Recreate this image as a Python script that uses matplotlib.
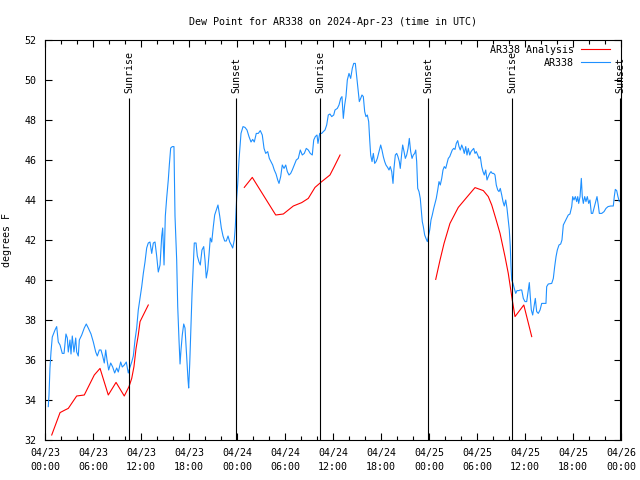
import matplotlib
matplotlib.use('Agg')
import matplotlib.pyplot as plt
import matplotlib.dates as mdates
import matplotlib.lines as mlines
import pandas as pd

start = pd.Timestamp('2024-04-23 00:00')

# sunrise / sunset, hours after 04/23 00:00 UTC
sun_hours = [10.5, 23.875, 34.375, 47.875, 58.375, 71.875]
sun_labels = ['Sunrise', 'Sunset', 'Sunrise', 'Sunset', 'Sunrise', 'Sunset']

# AR338 observed dew point (hours after start, deg F)
obs_hours = [0.41, 0.5, 0.62, 0.75, 0.91, 1.25, 1.46, 1.66, 1.88, 2.16, 2.38, 2.62, 2.79, 2.91,
             3.12, 3.25, 3.41, 3.62, 3.84, 3.96, 4.16, 4.29, 4.59, 4.91, 5.16, 5.41, 5.75, 6.04,
             6.34, 6.54, 6.79, 7.0, 7.21, 7.41, 7.59, 7.75, 7.96, 8.21, 8.46, 8.71, 8.96, 9.16,
             9.46, 9.66, 9.91, 10.16, 10.41, 10.59, 10.84, 11.04, 11.25, 11.46, 11.66,
             12.09, 12.29, 12.5, 12.71, 12.91, 13.12, 13.34, 13.54, 13.75, 13.96, 14.16, 14.38,
             14.59, 14.71, 14.88, 15.04, 15.21, 15.41, 15.54, 15.71, 15.91, 16.12, 16.25, 16.46,
             16.59, 16.75, 16.88, 17.0, 17.16, 17.34, 17.5, 17.66, 17.88, 17.96, 18.09, 18.21,
             18.38, 18.54, 18.66, 18.88, 19.04, 19.25, 19.41, 19.62, 19.84, 20.0, 20.16, 20.34,
             20.5, 20.66, 20.84, 21.04, 21.21, 21.41, 21.62, 21.84, 22.04, 22.25, 22.46, 22.66,
             22.88, 23.09, 23.29, 23.46, 23.66, 23.79, 23.96, 24.09, 24.25,
             24.5, 24.75, 25.0, 25.25, 25.5, 25.75, 25.96, 26.16, 26.41, 26.66, 26.91, 27.16,
             27.38, 27.59, 27.84, 28.04, 28.25, 28.46, 28.66, 28.88, 29.09, 29.25, 29.46, 29.66,
             29.88, 30.09, 30.29, 30.5, 30.71, 30.91, 31.16, 31.41, 31.66, 31.91, 32.16, 32.41,
             32.66, 32.91, 33.16, 33.41, 33.59, 33.79, 34.0, 34.12, 34.34, 34.59, 34.79, 35.0,
             35.21, 35.41, 35.62, 35.84, 36.09,
             36.25, 36.54, 36.75, 36.96, 37.12, 37.29, 37.46, 37.62, 37.79, 38.0, 38.21, 38.41,
             38.59, 38.79, 38.96, 39.12, 39.29, 39.46, 39.62, 39.79, 39.96, 40.12, 40.29, 40.46,
             40.59, 40.71, 40.88, 41.04, 41.21, 41.38, 41.54, 41.75, 41.96, 42.12, 42.29, 42.46,
             42.62, 42.84, 43.0, 43.16, 43.34, 43.5, 43.62, 43.79, 43.96, 44.12, 44.29, 44.41,
             44.59, 44.71, 44.88, 45.04, 45.21, 45.38, 45.54, 45.71, 45.88, 46.04, 46.21, 46.34,
             46.46, 46.59, 46.75, 46.91, 47.04, 47.16, 47.29, 47.46, 47.62, 47.79,
             48.09, 48.25, 48.41, 48.59, 48.75, 48.91, 49.09, 49.25, 49.41, 49.59, 49.75, 49.91,
             50.09, 50.25, 50.41, 50.59, 50.75, 50.91, 51.09, 51.25, 51.41, 51.59, 51.75, 51.91,
             52.09, 52.25, 52.41, 52.59, 52.75, 52.91, 53.09, 53.25, 53.41, 53.59, 53.75, 53.91,
             54.09, 54.25, 54.41, 54.59, 54.75, 54.91, 55.09, 55.25, 55.41, 55.59, 55.75, 55.91,
             56.09, 56.25, 56.41, 56.59, 56.75, 56.91, 57.09, 57.25, 57.41, 57.59, 57.75, 57.91,
             58.04, 58.16, 58.25, 58.34, 58.5, 58.66, 58.84, 59.0, 59.25,
             59.38, 59.59, 59.79, 60.0, 60.21, 60.41, 60.54, 60.66, 60.79, 60.96, 61.12, 61.29,
             61.46, 61.66, 61.88, 62.09, 62.38, 62.62, 62.71, 62.91, 63.34, 63.54, 63.71, 63.88,
             64.04, 64.25, 64.46, 64.62, 64.79, 65.0, 65.21, 65.41, 65.62, 65.84, 65.96, 66.12,
             66.29, 66.46, 66.59, 66.71, 66.88, 67.04, 67.16, 67.29, 67.46, 67.62, 67.79, 67.96,
             68.12, 68.29, 68.46, 68.62, 68.84, 69.0, 69.16, 69.29, 69.59, 69.88, 70.12, 70.38,
             70.71, 71.04, 71.16, 71.29, 71.46, 71.62, 71.79]
obs_dewpt = [33.67, 34.25, 35.6, 36.4, 37.15, 37.5, 37.67, 36.9, 36.75, 36.33, 36.33, 37.3, 37.1, 36.4,
             37.0, 36.3, 37.2, 36.4, 37.1, 36.4, 36.2, 37.0, 37.25, 37.6, 37.8, 37.6, 37.3, 36.9,
             36.4, 36.2, 36.5, 36.5, 36.2, 35.85, 36.5, 36.0, 35.5, 35.85, 35.65, 35.35, 35.6, 35.4,
             35.9, 35.65, 35.75, 35.9, 35.35, 35.6, 35.9, 36.2, 37.0, 37.6, 38.5,
             39.67, 40.33, 40.9, 41.6, 41.85, 41.9, 41.33, 41.85, 41.9, 41.2, 40.4, 40.75,
             42.2, 42.6, 40.75, 43.2, 44.1, 45.0, 45.75, 46.6, 46.67, 46.67, 43.2, 41.0,
             38.67, 37.0, 35.8, 36.5, 37.25, 37.8, 37.6, 36.5, 35.0, 34.6, 35.8, 37.3,
             39.33, 40.8, 41.85, 41.85, 41.2, 40.9, 40.75, 41.5, 41.67, 41.0, 40.1, 40.5,
             41.25, 42.1, 41.9, 42.67, 43.25, 43.5, 43.75, 43.2, 42.6, 42.2, 41.95, 41.95,
             42.2, 41.9, 41.75, 41.6, 42.0, 42.67, 44.1, 44.8, 46.0,
             47.33, 47.67, 47.63, 47.5, 47.17, 46.9, 47.03, 46.9, 47.33, 47.33, 47.47, 47.25,
             46.58, 46.33, 46.42, 46.08, 45.92, 45.75, 45.5, 45.3, 45.0, 44.83, 45.17, 45.75,
             45.58, 45.75, 45.42, 45.25, 45.33, 45.5, 45.75, 46.0, 46.08, 46.5, 46.25, 46.33,
             46.58, 46.5, 46.33, 46.25, 47.0, 47.17, 47.25, 46.83, 47.33, 47.33, 47.42, 47.5,
             47.75, 48.25, 48.3, 48.17, 48.25,
             48.5, 48.58, 48.75, 49.08, 49.17, 48.08, 48.75, 49.17, 50.0, 50.33, 50.08, 50.58,
             50.83, 50.83, 50.17, 49.5, 48.92, 49.08, 49.25, 49.17, 48.42, 48.17, 48.25, 47.92,
             47.0, 46.25, 45.92, 46.33, 45.83, 45.92, 46.08, 46.42, 46.75, 46.5, 46.17, 45.92,
             45.75, 45.62, 45.5, 45.67, 45.42, 44.83, 45.58, 46.25, 46.33, 46.17, 45.92, 45.58,
             46.33, 46.75, 46.42, 46.08, 46.25, 46.58, 47.08, 46.42, 46.08, 46.25, 46.33, 46.5,
             45.92, 44.58, 44.42, 44.08, 43.5, 42.92, 42.67, 42.25, 42.08, 41.92,
             42.5, 43.0, 43.25, 43.58, 43.83, 44.08, 44.5, 44.92, 44.75, 45.08, 45.5, 45.67,
             45.58, 45.83, 46.08, 46.17, 46.33, 46.5, 46.58, 46.53, 46.83, 46.97, 46.67, 46.5,
             46.75, 46.58, 46.33, 46.67, 46.25, 46.58, 46.25, 46.42, 46.5, 46.58, 46.33, 46.42,
             46.25, 46.08, 46.17, 45.67, 45.42, 45.25, 45.5, 45.0, 45.17, 45.33, 45.42, 45.33,
             45.33, 45.25, 44.75, 44.5, 44.42, 44.58, 44.25, 43.92, 43.7, 44.0, 43.58, 43.0,
             42.5, 41.67, 40.67, 40.0, 39.83, 39.58, 39.33, 39.47, 39.47,
             39.5, 39.5, 39.08, 38.92, 38.92, 39.5, 39.87, 39.17, 38.5, 38.25, 38.67, 39.08,
             38.42, 38.33, 38.5, 38.83, 38.83, 38.83, 39.67, 39.8, 39.83, 40.08, 40.67, 41.17,
             41.5, 41.75, 41.8, 42.0, 42.75, 42.92, 43.08, 43.25, 43.3, 43.67, 44.17, 44.0,
             44.17, 43.92, 44.17, 43.83, 44.17, 45.08, 44.17, 43.83, 44.17, 43.92, 44.17, 43.83,
             44.0, 43.33, 43.33, 43.58, 43.92, 44.17, 43.75, 43.33, 43.33, 43.42, 43.58, 43.67,
             43.7, 43.7, 44.17, 44.53, 44.47, 44.17, 43.92]

# AR338 analysis, three runs
ana1_hours = [0.84, 1.88, 2.5, 2.91, 3.96, 4.91, 6.16, 6.88, 7.91, 8.88, 9.91, 10.5, 10.84,
              11.12, 11.38, 11.66, 11.88, 12.29, 12.91]
ana1_dewpt = [32.25, 33.37, 33.5, 33.58, 34.2, 34.25, 35.25, 35.58, 34.25, 34.88, 34.2, 34.67,
              35.08, 35.67, 36.58, 37.25, 37.92, 38.25, 38.75]
ana2_hours = [24.91, 25.91, 28.84, 29.79, 31.04, 32.09, 32.91, 33.75, 34.59, 35.62, 36.16, 36.88]
ana2_dewpt = [44.63, 45.13, 43.25, 43.3, 43.7, 43.87, 44.08, 44.63, 44.92, 45.25, 45.67, 46.25]
ana3_hours = [48.84, 49.38, 49.88, 50.62, 51.66, 52.71, 53.75, 54.79, 55.41, 55.84, 56.34,
              56.88, 57.5, 57.91, 58.41, 58.75, 59.85, 60.84]
ana3_dewpt = [40.03, 41.0, 41.83, 42.83, 43.63, 44.13, 44.62, 44.47, 44.17, 43.75, 43.08,
              42.33, 41.17, 40.33, 39.0, 38.17, 38.75, 37.17]


def to_time(hours):
    return start + pd.to_timedelta(hours, unit='h')


def main():
    plt.rcParams['font.family'] = ['DejaVu Sans Mono', 'DejaVu Sans']
    fs = 7.2
    lw = 0.8
    blue = '#1e90ff'
    red = '#ff0000'

    fig = plt.figure(figsize=(6.4, 4.8), dpi=100)
    ax = fig.add_axes([45 / 640, 40 / 480, 576 / 640, 400 / 480])

    ax.plot(to_time(obs_hours), obs_dewpt, color=blue, lw=lw)
    for h, v in [(ana1_hours, ana1_dewpt), (ana2_hours, ana2_dewpt), (ana3_hours, ana3_dewpt)]:
        ax.plot(to_time(h), v, color=red, lw=lw)

    # sunrise / sunset markers
    ax.vlines(to_time(sun_hours), 32, 49.1, color='black', lw=lw)
    for h, lab in zip(sun_hours, sun_labels):
        ax.text(to_time(h), 49.35, lab, rotation=90, ha='center', va='bottom',
                fontsize=fs, clip_on=False)

    ax.set_xlim(start, start + pd.Timedelta(hours=72))
    ax.set_ylim(32, 52)
    ax.set_yticks(range(32, 53, 2))
    ax.xaxis.set_major_locator(mdates.HourLocator(byhour=[0, 6, 12, 18]))
    ax.xaxis.set_minor_locator(mdates.HourLocator(interval=2))
    ax.xaxis.set_major_formatter(mdates.DateFormatter('%m/%d\n%H:%M'))

    ax.tick_params(which='major', direction='in', length=5, width=0.8, top=True, right=True,
                   labelsize=fs, pad=6)
    ax.tick_params(which='minor', direction='in', length=3, width=0.8, top=True)
    for sp in ax.spines.values():
        sp.set_linewidth(0.8)

    ax.set_title('Dew Point for AR338 on 2024-Apr-23 (time in UTC)', fontsize=fs, pad=11)
    ax.set_ylabel('degrees F', fontsize=fs)
    ax.yaxis.set_label_coords(-33 / 576, 0.5)

    h_ana = mlines.Line2D([], [], color=red, lw=lw)
    h_obs = mlines.Line2D([], [], color=blue, lw=lw)
    leg = ax.legend([h_ana, h_obs], ['AR338 Analysis', 'AR338'], loc='upper right',
                    bbox_to_anchor=(1 - 11 / 576, 1 - 5 / 400), frameon=False,
                    markerfirst=False, fontsize=fs, handlelength=2.9, handletextpad=0.7,
                    labelspacing=0.3, borderpad=0, borderaxespad=0)
    # right-align the entries (text flush against the line samples)
    for col in leg._legend_handle_box.get_children():
        col.align = 'right'

    fig.canvas.draw()
    for lbl in ax.get_xticklabels():
        lbl.set_linespacing(1.4)

    fig.savefig('out.png', dpi=100)


if __name__ == '__main__':
    main()
